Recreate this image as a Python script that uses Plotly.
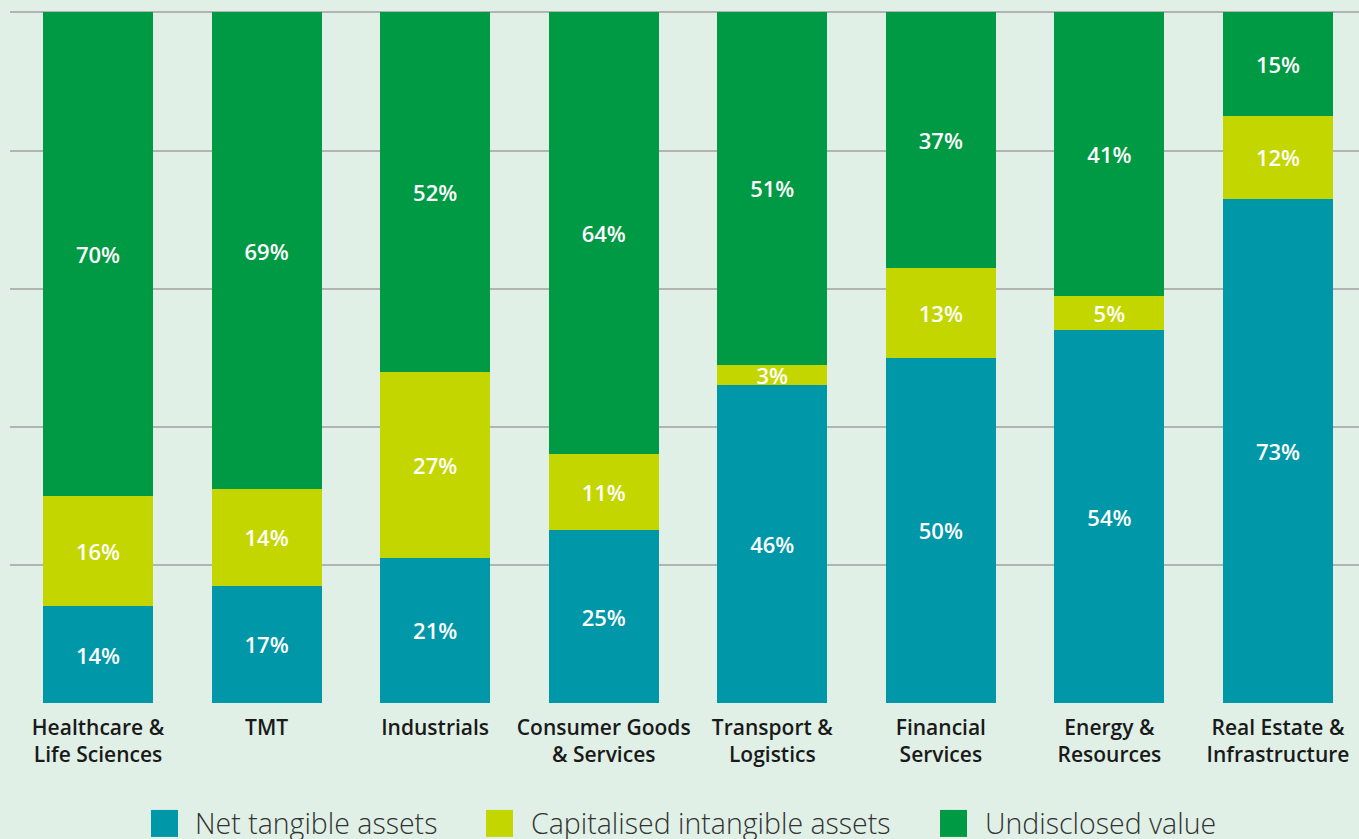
import plotly.graph_objects as go

categories = ["Healthcare &<br>Life Sciences", "TMT", "Industrials", "Consumer Goods<br>& Services",
              "Transport &<br>Logistics", "Financial<br>Services", "Energy &<br>Resources",
              "Real Estate &<br>Infrastructure"]
net_tangible = [14, 17, 21, 25, 46, 50, 54, 73]
cap_intangible = [16, 14, 27, 11, 3, 13, 5, 12]
undisclosed = [70, 69, 52, 64, 51, 37, 41, 15]
series_names = ["Net tangible assets", "Capitalised intangible assets", "Undisclosed value"]
colors = ["#0097A9", "#C4D600", "#009A44"]
y_ticks = [0, 20, 40, 60, 80, 100]

W, H = 1359, 839
y_top = 100.2
L, B = 10, 136
plot_h_100 = 691
plot_h = plot_h_100 * y_top / 100
T = H - B - plot_h
plot_w = W - L
bg = "#E0F0E6"

fig = go.Figure()
x_idx = list(range(len(categories)))
for name, vals, col in zip(series_names, [net_tangible, cap_intangible, undisclosed], colors):
    fig.add_trace(go.Bar(
        x=x_idx, y=vals, name=name, marker=dict(color=col, line=dict(width=0)),
        width=0.6525, text=[f"{v}%" for v in vals], textposition="inside",
        insidetextanchor="middle", constraintext="none",
        textfont=dict(family="Open Sans", size=22, color="white", weight=600),
        hoverinfo="skip", showlegend=False,
    ))

step = 168.57
x0 = -(98 - L) / step
x1 = x0 + plot_w / step

fig.update_layout(
    barmode="stack", width=W, height=H,
    margin=dict(l=L, r=0, t=T, b=B, pad=0),
    paper_bgcolor=bg, plot_bgcolor=bg, showlegend=False,
    xaxis=dict(range=[x0, x1], tickmode="array", tickvals=x_idx, ticktext=categories,
               showgrid=False, zeroline=False, showline=False, ticks="",
               ticklabelstandoff=10,
               tickfont=dict(family="Open Sans", size=21, color="#1A1A1A", weight=600)),
    yaxis=dict(range=[0, y_top], tickvals=y_ticks, showticklabels=False, showgrid=True,
               gridcolor="#B3B3B3", gridwidth=2, zeroline=False, showline=False),
)

# manual legend
def px_to_paper_x(px):
    return (px - L) / plot_w

def py_to_paper_y(py):
    return (H - B - py) / plot_h

legend_items = [(151, 193), (486, 529), (940, 983)]
for (sq_x, tx_x), name, col in zip(legend_items, series_names, colors):
    fig.add_shape(type="rect", xref="paper", yref="paper",
                  x0=px_to_paper_x(sq_x), x1=px_to_paper_x(sq_x + 27),
                  y0=py_to_paper_y(837), y1=py_to_paper_y(810),
                  fillcolor=col, line=dict(width=0))
    fig.add_annotation(xref="paper", yref="paper", x=px_to_paper_x(tx_x), y=py_to_paper_y(823),
                       text=name, showarrow=False, xanchor="left", yanchor="middle",
                       font=dict(family="Open Sans", size=28.5, color="#333333", weight=300))

fig.write_html("out.html", config={"displayModeBar": False},
               post_script="document.body.style.margin='0';document.body.style.background='%s';" % bg)
